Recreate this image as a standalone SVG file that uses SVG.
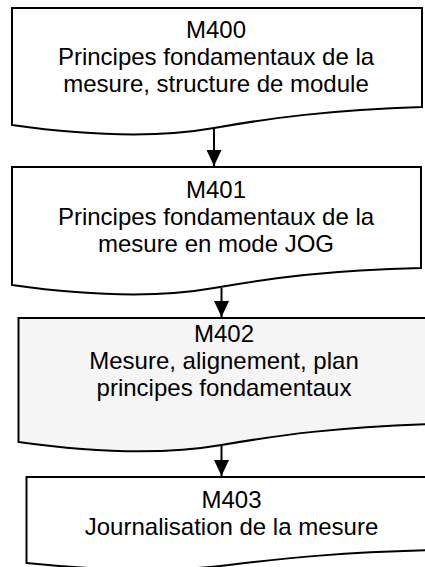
<svg xmlns="http://www.w3.org/2000/svg" width="425" height="567" viewBox="0 0 425 567">
  <style>
    .doc { fill: #ffffff; stroke: #000000; stroke-width: 2; stroke-linejoin: miter; }
    .doc.shaded { fill: #f5f5f5; }
    .lbl { font-family: "Liberation Sans", Arial, sans-serif; font-size: 24px; fill: #000000; text-anchor: middle; }
    .conn { stroke: #000000; stroke-width: 2; fill: none; marker-end: url(#arrow); }
  </style>
  <defs>
    <marker id="arrow" viewBox="0 0 16 15" refX="16" refY="7.5" markerWidth="16" markerHeight="15" markerUnits="userSpaceOnUse" orient="auto">
      <path d="M0,0 L16,7.5 L0,15 Z" fill="#000000"/>
    </marker>
  </defs>

  <rect x="0" y="0" width="425" height="567" fill="#ffffff"/>

  <!-- module documents -->
  <g id="m400">
    <path class="doc" d="M12,8 H422 V107 C330,110 270,118 214,128 S90,136 12,125 Z"/>
    <text class="lbl" x="216" y="37.5">M400</text>
    <text class="lbl" x="216" y="64.5">Principes fondamentaux de la</text>
    <text class="lbl" x="216" y="91.5">mesure, structure de module</text>
  </g>

  <g id="m401">
    <path class="doc" d="M12,167 H421 V268 C330,270 270,278 214,288 S90,296 12,285 Z"/>
    <text class="lbl" x="216" y="198">M401</text>
    <text class="lbl" x="216" y="225">Principes fondamentaux de la</text>
    <text class="lbl" x="216" y="252">mesure en mode JOG</text>
  </g>

  <g id="m402">
    <path class="doc shaded" d="M18.5,318 H430 V424 C337.5,427 279.5,435 221.5,445 S96.5,453 18.5,442 Z"/>
    <text class="lbl" x="224" y="342">M402</text>
    <text class="lbl" x="224" y="369">Mesure, alignement, plan</text>
    <text class="lbl" x="224" y="396">principes fondamentaux</text>
  </g>

  <g id="m403">
    <path class="doc" d="M26.5,477 H436 V550 C344,552 286,558 229,565 S104,571 26.5,563 Z"/>
    <text class="lbl" x="231.5" y="507.5">M403</text>
    <text class="lbl" x="231.5" y="535">Journalisation de la mesure</text>
  </g>

  <!-- connectors -->
  <g id="connectors">
    <line class="conn" x1="214" y1="128" x2="214" y2="166"/>
    <line class="conn" x1="221.5" y1="288" x2="221.5" y2="317"/>
    <line class="conn" x1="221.5" y1="445" x2="221.5" y2="476"/>
  </g>
</svg>
